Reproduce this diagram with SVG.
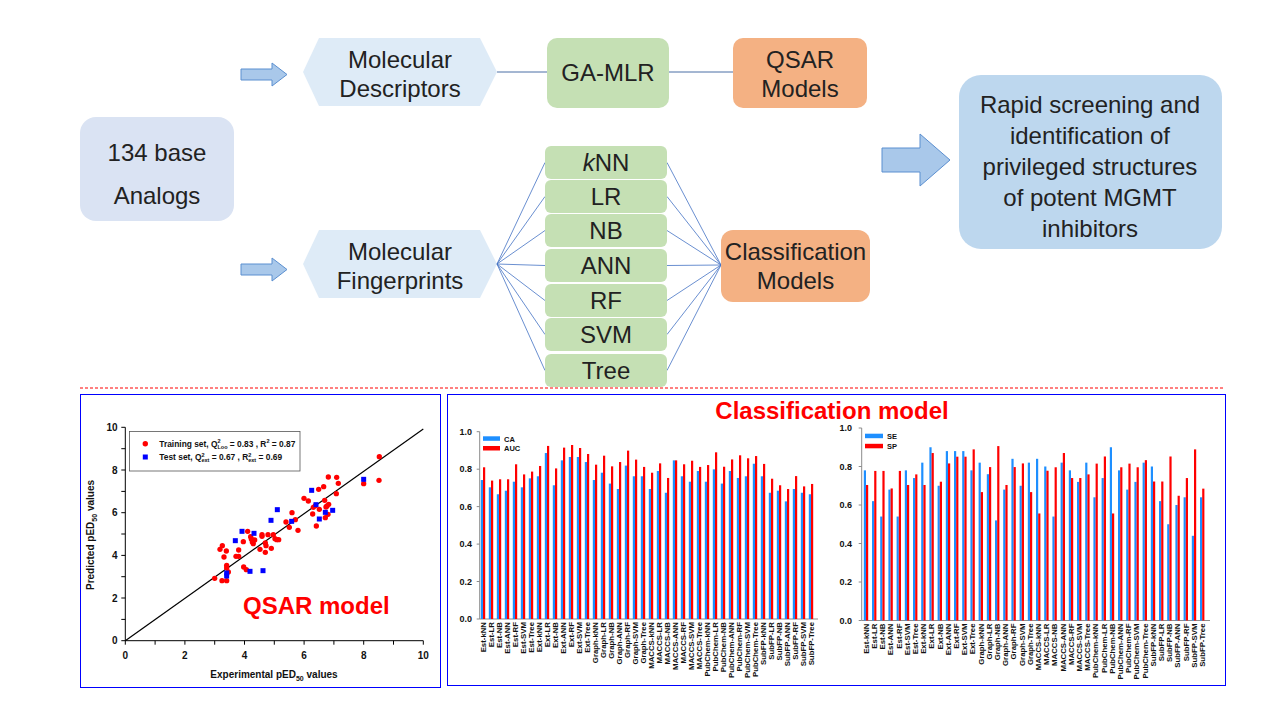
<svg xmlns="http://www.w3.org/2000/svg" width="1280" height="720" viewBox="0 0 1280 720">
<defs>
<style>
.t{font-family:"Liberation Sans",Arial,sans-serif;font-size:24px;fill:#222;text-anchor:middle}
.hex{fill:#deebf7}
.grn{fill:#c5e0b4}
.org{fill:#f4b183}
.arr{fill:#a9c8ea;stroke:#5b8fd0;stroke-width:1}
.fan{stroke:#4472c4;stroke-width:0.8;fill:none}
.b{font-family:"Liberation Sans",Arial,sans-serif;font-weight:bold;fill:#111}
.tk{font-size:10px;text-anchor:middle}
.tky{font-size:10px;text-anchor:end}
.by{font-size:9px;text-anchor:end}
.xl{font-size:7.8px;text-anchor:end}
.lg{font-size:8.4px}
.ax{stroke:#000;stroke-width:1;fill:none}
.gax{stroke:#8c8c8c;stroke-width:1;fill:none}
.blu{fill:#1e8fff}
.red{fill:#ff0000}
</style>
</defs>

<g id="analogs">
<rect x="80" y="117" width="154" height="104" rx="16" fill="#dae3f3"/>
<text class="t" x="157" y="161">134 base</text>
<text class="t" x="157" y="204">Analogs</text>
</g>

<g id="arrow1"><path class="arr" d="M241,69 H272 V63 L287,74.5 L272,86 V80 H241 Z"/></g>
<g id="arrow2"><path class="arr" d="M241,264 H272 V258 L287,269.5 L272,281 V275 H241 Z"/></g>

<g id="descriptors">
<path class="hex" d="M303,72 L319,38 H480 L497,72 L480,106 H319 Z"/>
<text class="t" x="400" y="68">Molecular</text>
<text class="t" x="400" y="97">Descriptors</text>
</g>

<g id="fingerprints">
<path class="hex" d="M303,264 L319,230 H480 L497,264 L480,298 H319 Z"/>
<text class="t" x="400" y="260">Molecular</text>
<text class="t" x="400" y="289">Fingerprints</text>
</g>

<g id="connectors">
<line x1="497" y1="72" x2="547" y2="72" stroke="#4a6fa5" stroke-width="1"/>
<line x1="669" y1="72" x2="733" y2="72" stroke="#4a6fa5" stroke-width="1"/>
<path class="fan" d="M497,264 L545,162.5 M497,264 L545,196.5 M497,264 L545,230.5 M497,264 L545,265.5 M497,264 L545,300.5 M497,264 L545,334.5 M497,264 L545,370.5"/>
<path class="fan" d="M667,162.5 L721,265 M667,196.5 L721,265 M667,230.5 L721,265 M667,265.5 L721,265 M667,300.5 L721,265 M667,334.5 L721,265 M667,370.5 L721,265"/>
<path class="arr" d="M882,148 H920 V134 L950,160 L920,186 V172 H882 Z"/>
</g>

<g id="gamlr">
<rect class="grn" x="547" y="38" width="122" height="70" rx="10"/>
<text class="t" x="608" y="81">GA-MLR</text>
</g>

<g id="qsar">
<rect class="org" x="733" y="38" width="134" height="70" rx="10"/>
<text class="t" x="800" y="68">QSAR</text>
<text class="t" x="800" y="97">Models</text>
</g>

<g id="knn"><rect class="grn" x="545" y="146" width="122" height="33" rx="6"/><text class="t" x="606" y="171"><tspan font-style="italic">k</tspan>NN</text></g>
<g id="lr"><rect class="grn" x="545" y="180" width="122" height="33" rx="6"/><text class="t" x="606" y="205">LR</text></g>
<g id="nb"><rect class="grn" x="545" y="214" width="122" height="33" rx="6"/><text class="t" x="606" y="239">NB</text></g>
<g id="ann"><rect class="grn" x="545" y="249" width="122" height="33" rx="6"/><text class="t" x="606" y="274">ANN</text></g>
<g id="rf"><rect class="grn" x="545" y="284" width="122" height="33" rx="6"/><text class="t" x="606" y="309">RF</text></g>
<g id="svm"><rect class="grn" x="545" y="318" width="122" height="33" rx="6"/><text class="t" x="606" y="343">SVM</text></g>
<g id="tree"><rect class="grn" x="545" y="354" width="122" height="33" rx="6"/><text class="t" x="606" y="379">Tree</text></g>

<g id="classification">
<rect class="org" x="721" y="230" width="149" height="72" rx="12"/>
<text class="t" x="795.5" y="260">Classification</text>
<text class="t" x="795.5" y="289">Models</text>
</g>

<g id="result">
<rect x="959" y="75" width="263" height="174" rx="22" fill="#bdd7ee"/>
<text class="t" x="1090" y="113">Rapid screening and</text>
<text class="t" x="1090" y="144">identification of</text>
<text class="t" x="1090" y="175">privileged structures</text>
<text class="t" x="1090" y="206">of potent MGMT</text>
<text class="t" x="1090" y="237">inhibitors</text>
</g>

<line x1="80" y1="388" x2="1225" y2="388" stroke="#ff0000" stroke-width="1" stroke-dasharray="3 2"/>

<g id="qsar-plot">
<rect x="80.5" y="394.5" width="360" height="293" fill="#fff" stroke="#0000ff" stroke-width="1"/>
<path class="ax" d="M125.3,427.3 V640.7 H423.3"/>
<path class="ax" d="M125.3,640.7 V644.7 M155.1,640.7 V644.7 M184.9,640.7 V644.7 M214.7,640.7 V644.7 M244.5,640.7 V644.7 M274.3,640.7 V644.7 M304.1,640.7 V644.7 M333.9,640.7 V644.7 M363.7,640.7 V644.7 M393.5,640.7 V644.7 M423.3,640.7 V644.7"/>
<path class="ax" d="M121.3,640.7 H125.3 M121.3,619.4 H125.3 M121.3,598 H125.3 M121.3,576.7 H125.3 M121.3,555.4 H125.3 M121.3,534 H125.3 M121.3,512.7 H125.3 M121.3,491.4 H125.3 M121.3,470 H125.3 M121.3,448.7 H125.3 M121.3,427.3 H125.3"/>
<line x1="125.3" y1="640.7" x2="423.3" y2="429" stroke="#000" stroke-width="1.2"/>
<g class="b tk">
<text x="125.3" y="659">0</text><text x="184.9" y="659">2</text><text x="244.5" y="659">4</text><text x="304.1" y="659">6</text><text x="363.7" y="659">8</text><text x="423.3" y="659">10</text>
</g>
<g class="b tky">
<text x="117.5" y="644.3">0</text><text x="117.5" y="601.6">2</text><text x="117.5" y="559">4</text><text x="117.5" y="516.3">6</text><text x="117.5" y="473.6">8</text><text x="117.5" y="431">10</text>
</g>
<text class="b" x="274" y="678" font-size="10" text-anchor="middle">Experimental pED<tspan font-size="7" dy="2.5">50</tspan><tspan dy="-2.5"> values</tspan></text>
<text class="b" transform="translate(94 535) rotate(-90)" font-size="10" text-anchor="middle">Predicted pED<tspan font-size="7" dy="2.5">50</tspan><tspan dy="-2.5"> values</tspan></text>
<g transform="translate(80 392) scale(0.33333)">
<g class="red">
<circle cx="404" cy="559" r="8"/><circle cx="420" cy="472" r="8"/><circle cx="427" cy="461" r="8"/><circle cx="432" cy="495" r="8"/><circle cx="439" cy="477" r="8"/><circle cx="426" cy="566" r="8"/><circle cx="440" cy="566" r="8"/><circle cx="440" cy="520" r="8"/><circle cx="440" cy="527" r="8"/><circle cx="445" cy="540" r="8"/><circle cx="468" cy="493" r="8"/><circle cx="476" cy="474" r="8"/><circle cx="476" cy="493" r="8"/><circle cx="490" cy="449" r="8"/><circle cx="491" cy="525" r="8"/><circle cx="499" cy="533" r="8"/><circle cx="503" cy="418" r="8"/><circle cx="512" cy="434" r="8"/><circle cx="514" cy="441" r="8"/><circle cx="517" cy="450" r="8"/><circle cx="520" cy="455" r="8"/><circle cx="524" cy="444" r="8"/><circle cx="540" cy="472" r="8"/><circle cx="546" cy="428" r="8"/><circle cx="546" cy="433" r="8"/><circle cx="556" cy="453" r="8"/><circle cx="558" cy="461" r="8"/><circle cx="556" cy="481" r="8"/><circle cx="564" cy="428" r="8"/><circle cx="574" cy="469" r="8"/><circle cx="580" cy="428" r="8"/><circle cx="585" cy="440" r="8"/><circle cx="590" cy="443" r="8"/><circle cx="596" cy="443" r="8"/><circle cx="618" cy="390" r="8"/><circle cx="628" cy="406" r="8"/><circle cx="636" cy="362" r="8"/><circle cx="646" cy="383" r="8"/><circle cx="654" cy="415" r="8"/><circle cx="672" cy="319" r="8"/><circle cx="685" cy="327" r="8"/><circle cx="698" cy="366" r="8"/><circle cx="700" cy="346" r="8"/><circle cx="706" cy="341" r="8"/><circle cx="709" cy="402" r="8"/><circle cx="716" cy="292" r="8"/><circle cx="718" cy="352" r="8"/><circle cx="731" cy="284" r="8"/><circle cx="734" cy="325" r="8"/><circle cx="736" cy="377" r="8"/><circle cx="738" cy="345" r="8"/><circle cx="741" cy="342" r="8"/><circle cx="744" cy="367" r="8"/><circle cx="746" cy="337" r="8"/><circle cx="745" cy="255" r="8"/><circle cx="770" cy="256" r="8"/><circle cx="775" cy="274" r="8"/><circle cx="769" cy="305" r="8"/><circle cx="851" cy="275" r="8"/><circle cx="898" cy="194" r="8"/><circle cx="897" cy="265" r="8"/>
</g>
<g fill="#0000ff">
<rect x="432.5" y="535.5" width="15" height="15"/><rect x="432.5" y="544.5" width="15" height="15"/><rect x="458.5" y="438.5" width="15" height="15"/><rect x="478.5" y="410.5" width="15" height="15"/><rect x="514.5" y="416.5" width="15" height="15"/><rect x="502.5" y="530.5" width="15" height="15"/><rect x="541.5" y="528.5" width="15" height="15"/><rect x="565.5" y="377.5" width="15" height="15"/><rect x="584.5" y="345.5" width="15" height="15"/><rect x="627.5" y="380.5" width="15" height="15"/><rect x="687.5" y="287.5" width="15" height="15"/><rect x="700.5" y="330.5" width="15" height="15"/><rect x="710.5" y="373.5" width="15" height="15"/><rect x="728.5" y="353.5" width="15" height="15"/><rect x="750.5" y="347.5" width="15" height="15"/><rect x="843.5" y="254.5" width="15" height="15"/>
</g>
</g>
<rect x="129.5" y="431.5" width="170.5" height="39.5" fill="#fff" stroke="#555" stroke-width="0.8"/>
<circle cx="145.3" cy="443.7" r="2.7" fill="#ff0000"/>
<rect x="142.8" y="454.5" width="5" height="5" fill="#0000ff"/>
<text class="b lg" x="159.3" y="446.5">Training set, Q<tspan font-size="5.5" dy="-3.5">2</tspan><tspan font-size="5.5" dx="-3.1" dy="5.5">Loo</tspan><tspan dy="-2"> = 0.83 , R</tspan><tspan font-size="5.5" dy="-3.5">2</tspan><tspan dy="3.5"> = 0.87</tspan></text>
<text class="b lg" x="159.3" y="460">Test set, Q<tspan font-size="5.5" dy="-3.5">2</tspan><tspan font-size="5.5" dx="-3.1" dy="5.5">ext</tspan><tspan dy="-2"> = 0.67 , R</tspan><tspan font-size="5.5" dy="-3.5">2</tspan><tspan font-size="5.5" dx="-3.1" dy="5.5">ext</tspan><tspan dy="-2"> = 0.69</tspan></text>
<text x="243" y="614" font-family="Liberation Sans,Arial,sans-serif" font-weight="bold" font-size="24" fill="#ff0000">QSAR model</text>
</g>

<g id="classification-plot">
<rect x="447.5" y="394.5" width="778" height="291" fill="#fff" stroke="#0000ff" stroke-width="1"/>
<text x="832" y="419" font-family="Liberation Sans,Arial,sans-serif" font-weight="bold" font-size="24" fill="#ff0000" text-anchor="middle">Classification model</text>

<path class="gax" d="M479.7,431.7 V619 H818 M476.7,619 H479.7 M476.7,581.5 H479.7 M476.7,544.1 H479.7 M476.7,506.6 H479.7 M476.7,469.2 H479.7 M476.7,431.7 H479.7"/>
<g class="b by">
<text x="472" y="622.2">0.0</text><text x="472" y="584.7">0.2</text><text x="472" y="547.3">0.4</text><text x="472" y="509.8">0.6</text><text x="472" y="472.4">0.8</text><text x="472" y="434.9">1.0</text>
</g>
<rect class="blu" x="483" y="436.3" width="17" height="4.5"/><rect class="red" x="483" y="446" width="17" height="4.5"/>
<text class="b" x="504" y="441.5" font-size="7.5">CA</text><text class="b" x="504" y="451" font-size="7.5">AUC</text>
<g transform="translate(483 619) scale(1 -187.3)">
<g class="blu">
<rect x="-2.2" width="2.2" height=".742"/><rect x="5.8" width="2.2" height=".703"/><rect x="13.8" width="2.2" height=".666"/><rect x="21.8" width="2.2" height=".685"/><rect x="29.8" width="2.2" height=".733"/><rect x="37.8" width="2.2" height=".703"/><rect x="45.8" width="2.2" height=".751"/><rect x="53.8" width="2.2" height=".762"/><rect x="61.8" width="2.2" height=".886"/><rect x="69.8" width="2.2" height=".714"/><rect x="77.8" width="2.2" height=".847"/><rect x="85.8" width="2.2" height=".865"/><rect x="93.8" width="2.2" height=".865"/><rect x="101.8" width="2.2" height=".838"/><rect x="109.8" width="2.2" height=".742"/><rect x="117.8" width="2.2" height=".781"/><rect x="125.8" width="2.2" height=".723"/><rect x="133.8" width="2.2" height=".694"/><rect x="141.8" width="2.2" height=".819"/><rect x="149.8" width="2.2" height=".762"/><rect x="157.8" width="2.2" height=".762"/><rect x="165.8" width="2.2" height=".694"/><rect x="173.8" width="2.2" height=".790"/><rect x="181.8" width="2.2" height=".674"/><rect x="189.8" width="2.2" height=".847"/><rect x="197.8" width="2.2" height=".762"/><rect x="205.8" width="2.2" height=".733"/><rect x="213.8" width="2.2" height=".790"/><rect x="221.8" width="2.2" height=".733"/><rect x="229.8" width="2.2" height=".799"/><rect x="237.8" width="2.2" height=".723"/><rect x="245.8" width="2.2" height=".790"/><rect x="253.8" width="2.2" height=".753"/><rect x="261.8" width="2.2" height=".762"/><rect x="269.8" width="2.2" height=".829"/><rect x="277.8" width="2.2" height=".762"/><rect x="285.8" width="2.2" height=".674"/><rect x="293.8" width="2.2" height=".685"/><rect x="301.8" width="2.2" height=".628"/><rect x="309.8" width="2.2" height=".694"/><rect x="317.8" width="2.2" height=".674"/><rect x="325.8" width="2.2" height=".666"/>
</g>
<g class="red">
<rect x="0" width="2.2" height=".810"/><rect x="8" width="2.2" height=".739"/><rect x="16" width="2.2" height=".746"/><rect x="24" width="2.2" height=".746"/><rect x="32" width="2.2" height=".826"/><rect x="40" width="2.2" height=".772"/><rect x="48" width="2.2" height=".787"/><rect x="56" width="2.2" height=".817"/><rect x="64" width="2.2" height=".924"/><rect x="72" width="2.2" height=".804"/><rect x="80" width="2.2" height=".915"/><rect x="88" width="2.2" height=".929"/><rect x="96" width="2.2" height=".913"/><rect x="104" width="2.2" height=".881"/><rect x="112" width="2.2" height=".824"/><rect x="120" width="2.2" height=".872"/><rect x="128" width="2.2" height=".815"/><rect x="136" width="2.2" height=".838"/><rect x="144" width="2.2" height=".899"/><rect x="152" width="2.2" height=".851"/><rect x="160" width="2.2" height=".812"/><rect x="168" width="2.2" height=".781"/><rect x="176" width="2.2" height=".831"/><rect x="184" width="2.2" height=".753"/><rect x="192" width="2.2" height=".847"/><rect x="200" width="2.2" height=".826"/><rect x="208" width="2.2" height=".845"/><rect x="216" width="2.2" height=".812"/><rect x="224" width="2.2" height=".822"/><rect x="232" width="2.2" height=".890"/><rect x="240" width="2.2" height=".813"/><rect x="248" width="2.2" height=".852"/><rect x="256" width="2.2" height=".874"/><rect x="264" width="2.2" height=".858"/><rect x="272" width="2.2" height=".870"/><rect x="280" width="2.2" height=".828"/><rect x="288" width="2.2" height=".749"/><rect x="296" width="2.2" height=".714"/><rect x="304" width="2.2" height=".694"/><rect x="312" width="2.2" height=".763"/><rect x="320" width="2.2" height=".708"/><rect x="328" width="2.2" height=".721"/>
</g>
</g>
<g class="b xl">
<text transform="translate(485.8 622) rotate(-90)">Est-kNN</text><text transform="translate(493.8 622) rotate(-90)">Est-LR</text><text transform="translate(501.8 622) rotate(-90)">Est-NB</text><text transform="translate(509.8 622) rotate(-90)">Est-ANN</text><text transform="translate(517.8 622) rotate(-90)">Est-RF</text><text transform="translate(525.8 622) rotate(-90)">Est-SVM</text><text transform="translate(533.8 622) rotate(-90)">Est-Tree</text>
<text transform="translate(541.8 622) rotate(-90)">Ext-kNN</text><text transform="translate(549.8 622) rotate(-90)">Ext-LR</text><text transform="translate(557.8 622) rotate(-90)">Ext-NB</text><text transform="translate(565.8 622) rotate(-90)">Ext-ANN</text><text transform="translate(573.8 622) rotate(-90)">Ext-RF</text><text transform="translate(581.8 622) rotate(-90)">Ext-SVM</text><text transform="translate(589.8 622) rotate(-90)">Ext-Tree</text>
<text transform="translate(597.8 622) rotate(-90)">Graph-kNN</text><text transform="translate(605.8 622) rotate(-90)">Graph-LR</text><text transform="translate(613.8 622) rotate(-90)">Graph-NB</text><text transform="translate(621.8 622) rotate(-90)">Graph-ANN</text><text transform="translate(629.8 622) rotate(-90)">Graph-RF</text><text transform="translate(637.8 622) rotate(-90)">Graph-SVM</text><text transform="translate(645.8 622) rotate(-90)">Graph-Tree</text>
<text transform="translate(653.8 622) rotate(-90)">MACCS-kNN</text><text transform="translate(661.8 622) rotate(-90)">MACCS-LR</text><text transform="translate(669.8 622) rotate(-90)">MACCS-NB</text><text transform="translate(677.8 622) rotate(-90)">MACCS-ANN</text><text transform="translate(685.8 622) rotate(-90)">MACCS-RF</text><text transform="translate(693.8 622) rotate(-90)">MACCS-SVM</text><text transform="translate(701.8 622) rotate(-90)">MACCS-Tree</text>
<text transform="translate(709.8 622) rotate(-90)">PubChem-kNN</text><text transform="translate(717.8 622) rotate(-90)">PubChem-LR</text><text transform="translate(725.8 622) rotate(-90)">PubChem-NB</text><text transform="translate(733.8 622) rotate(-90)">PubChem-ANN</text><text transform="translate(741.8 622) rotate(-90)">PubChem-RF</text><text transform="translate(749.8 622) rotate(-90)">PubChem-SVM</text><text transform="translate(757.8 622) rotate(-90)">PubChem-Tree</text>
<text transform="translate(765.8 622) rotate(-90)">SubFP-kNN</text><text transform="translate(773.8 622) rotate(-90)">SubFP-LR</text><text transform="translate(781.8 622) rotate(-90)">SubFP-NB</text><text transform="translate(789.8 622) rotate(-90)">SubFP-ANN</text><text transform="translate(797.8 622) rotate(-90)">SubFP-RF</text><text transform="translate(805.8 622) rotate(-90)">SubFP-SVM</text><text transform="translate(813.8 622) rotate(-90)">SubFP-Tree</text>
</g>

<path class="gax" d="M861.7,428 V620.5 H1210 M858.7,620.5 H861.7 M858.7,582 H861.7 M858.7,543.5 H861.7 M858.7,505 H861.7 M858.7,466.5 H861.7 M858.7,428 H861.7"/>
<g class="b by">
<text x="852" y="623.7">0.0</text><text x="852" y="585.2">0.2</text><text x="852" y="546.7">0.4</text><text x="852" y="508.2">0.6</text><text x="852" y="469.7">0.8</text><text x="852" y="431.2">1.0</text>
</g>
<rect class="blu" x="865" y="433.7" width="18" height="4.5"/><rect class="red" x="865" y="443.8" width="18" height="4.5"/>
<text class="b" x="887" y="439" font-size="7.5">SE</text><text class="b" x="887" y="449" font-size="7.5">SP</text>
<g transform="translate(866 620.5) scale(1 -192.5)">
<g class="blu">
<rect x="-2.2" width="2.2" height=".78"/><rect x="6" width="2.2" height=".62"/><rect x="14.2" width="2.2" height=".54"/><rect x="22.4" width="2.2" height=".68"/><rect x="30.6" width="2.2" height=".54"/><rect x="38.8" width="2.2" height=".78"/><rect x="47" width="2.2" height=".74"/><rect x="55.2" width="2.2" height=".82"/><rect x="63.4" width="2.2" height=".90"/><rect x="71.6" width="2.2" height=".70"/><rect x="79.8" width="2.2" height=".88"/><rect x="88" width="2.2" height=".88"/><rect x="96.2" width="2.2" height=".88"/><rect x="104.4" width="2.2" height=".78"/><rect x="112.6" width="2.2" height=".82"/><rect x="120.8" width="2.2" height=".76"/><rect x="129" width="2.2" height=".52"/><rect x="137.2" width="2.2" height=".68"/><rect x="145.4" width="2.2" height=".84"/><rect x="153.6" width="2.2" height=".70"/><rect x="161.8" width="2.2" height=".82"/><rect x="170" width="2.2" height=".84"/><rect x="178.2" width="2.2" height=".80"/><rect x="186.4" width="2.2" height=".54"/><rect x="194.6" width="2.2" height=".82"/><rect x="202.8" width="2.2" height=".78"/><rect x="211" width="2.2" height=".72"/><rect x="219.2" width="2.2" height=".82"/><rect x="227.4" width="2.2" height=".64"/><rect x="235.6" width="2.2" height=".74"/><rect x="243.8" width="2.2" height=".90"/><rect x="252" width="2.2" height=".78"/><rect x="260.2" width="2.2" height=".68"/><rect x="268.4" width="2.2" height=".72"/><rect x="276.6" width="2.2" height=".82"/><rect x="284.8" width="2.2" height=".80"/><rect x="293" width="2.2" height=".62"/><rect x="301.2" width="2.2" height=".50"/><rect x="309.4" width="2.2" height=".60"/><rect x="317.6" width="2.2" height=".64"/><rect x="325.8" width="2.2" height=".44"/><rect x="334" width="2.2" height=".64"/>
</g>
<g class="red">
<rect x="0" width="2.2" height=".704"/><rect x="8.2" width="2.2" height=".777"/><rect x="16.4" width="2.2" height=".777"/><rect x="24.6" width="2.2" height=".686"/><rect x="32.8" width="2.2" height=".777"/><rect x="41" width="2.2" height=".704"/><rect x="49.2" width="2.2" height=".759"/><rect x="57.4" width="2.2" height=".704"/><rect x="65.6" width="2.2" height=".870"/><rect x="73.8" width="2.2" height=".721"/><rect x="82" width="2.2" height=".816"/><rect x="90.2" width="2.2" height=".851"/><rect x="98.4" width="2.2" height=".851"/><rect x="106.6" width="2.2" height=".889"/><rect x="114.8" width="2.2" height=".667"/><rect x="123" width="2.2" height=".797"/><rect x="131.2" width="2.2" height=".906"/><rect x="139.4" width="2.2" height=".704"/><rect x="147.6" width="2.2" height=".797"/><rect x="155.8" width="2.2" height=".816"/><rect x="164" width="2.2" height=".667"/><rect x="172.2" width="2.2" height=".556"/><rect x="180.4" width="2.2" height=".778"/><rect x="188.6" width="2.2" height=".796"/><rect x="196.8" width="2.2" height=".870"/><rect x="205" width="2.2" height=".740"/><rect x="213.2" width="2.2" height=".740"/><rect x="221.4" width="2.2" height=".759"/><rect x="229.6" width="2.2" height=".815"/><rect x="237.8" width="2.2" height=".852"/><rect x="246" width="2.2" height=".556"/><rect x="254.2" width="2.2" height=".796"/><rect x="262.4" width="2.2" height=".815"/><rect x="270.6" width="2.2" height=".796"/><rect x="278.8" width="2.2" height=".833"/><rect x="287" width="2.2" height=".722"/><rect x="295.2" width="2.2" height=".722"/><rect x="303.4" width="2.2" height=".852"/><rect x="311.6" width="2.2" height=".648"/><rect x="319.8" width="2.2" height=".740"/><rect x="328" width="2.2" height=".889"/><rect x="336.2" width="2.2" height=".685"/>
</g>
</g>
<g class="b xl">
<text transform="translate(868.8 623.5) rotate(-90)">Est-kNN</text><text transform="translate(877 623.5) rotate(-90)">Est-LR</text><text transform="translate(885.2 623.5) rotate(-90)">Est-NB</text><text transform="translate(893.4 623.5) rotate(-90)">Est-ANN</text><text transform="translate(901.6 623.5) rotate(-90)">Est-RF</text><text transform="translate(909.8 623.5) rotate(-90)">Est-SVM</text><text transform="translate(918 623.5) rotate(-90)">Est-Tree</text>
<text transform="translate(926.2 623.5) rotate(-90)">Ext-kNN</text><text transform="translate(934.4 623.5) rotate(-90)">Ext-LR</text><text transform="translate(942.6 623.5) rotate(-90)">Ext-NB</text><text transform="translate(950.8 623.5) rotate(-90)">Ext-ANN</text><text transform="translate(959 623.5) rotate(-90)">Ext-RF</text><text transform="translate(967.2 623.5) rotate(-90)">Ext-SVM</text><text transform="translate(975.4 623.5) rotate(-90)">Ext-Tree</text>
<text transform="translate(983.6 623.5) rotate(-90)">Graph-kNN</text><text transform="translate(991.8 623.5) rotate(-90)">Graph-LR</text><text transform="translate(1000 623.5) rotate(-90)">Graph-NB</text><text transform="translate(1008.2 623.5) rotate(-90)">Graph-ANN</text><text transform="translate(1016.4 623.5) rotate(-90)">Graph-RF</text><text transform="translate(1024.6 623.5) rotate(-90)">Graph-SVM</text><text transform="translate(1032.8 623.5) rotate(-90)">Graph-Tree</text>
<text transform="translate(1041 623.5) rotate(-90)">MACCS-kNN</text><text transform="translate(1049.2 623.5) rotate(-90)">MACCS-LR</text><text transform="translate(1057.4 623.5) rotate(-90)">MACCS-NB</text><text transform="translate(1065.6 623.5) rotate(-90)">MACCS-ANN</text><text transform="translate(1073.8 623.5) rotate(-90)">MACCS-RF</text><text transform="translate(1082 623.5) rotate(-90)">MACCS-SVM</text><text transform="translate(1090.2 623.5) rotate(-90)">MACCS-Tree</text>
<text transform="translate(1098.4 623.5) rotate(-90)">PubChem-kNN</text><text transform="translate(1106.6 623.5) rotate(-90)">PubChem-LR</text><text transform="translate(1114.8 623.5) rotate(-90)">PubChem-NB</text><text transform="translate(1123 623.5) rotate(-90)">PubChem-ANN</text><text transform="translate(1131.2 623.5) rotate(-90)">PubChem-RF</text><text transform="translate(1139.4 623.5) rotate(-90)">PubChem-SVM</text><text transform="translate(1147.6 623.5) rotate(-90)">PubChem-Tree</text>
<text transform="translate(1155.8 623.5) rotate(-90)">SubFP-kNN</text><text transform="translate(1164 623.5) rotate(-90)">SubFP-LR</text><text transform="translate(1172.2 623.5) rotate(-90)">SubFP-NB</text><text transform="translate(1180.4 623.5) rotate(-90)">SubFP-ANN</text><text transform="translate(1188.6 623.5) rotate(-90)">SubFP-RF</text><text transform="translate(1196.8 623.5) rotate(-90)">SubFP-SVM</text><text transform="translate(1205 623.5) rotate(-90)">SubFP-Tree</text>
</g>
</g>
</svg>
